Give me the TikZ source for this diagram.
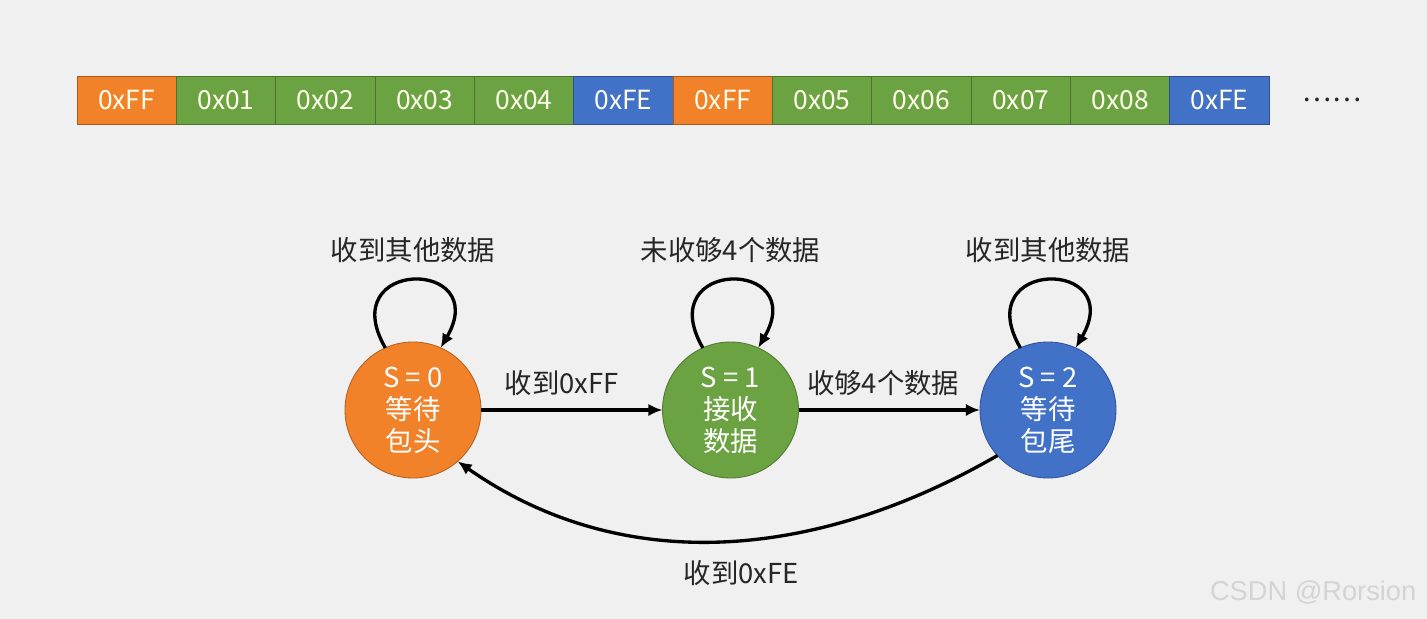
\documentclass[tikz,border=0pt]{standalone}
\usepackage{fontspec}
\setmainfont{Noto Sans CJK SC}
\newfontfamily\wmfont{Liberation Sans}
\usepackage{xcolor}
\usepackage{tikz}
\usetikzlibrary{shapes,arrows.meta,calc}
\definecolor{bgcol}{RGB}{240,240,240}
\definecolor{headcol}{RGB}{242,130,42}
\definecolor{datacol}{RGB}{108,163,66}
\definecolor{tailcol}{RGB}{66,113,200}
\definecolor{wmcol}{RGB}{212,212,212}
\newcommand{\txtfont}{\fontsize{15.6}{18.2}\selectfont}

\begin{document}
\begin{tikzpicture}[
    node distance=1.987cm,
    byte/.style={
      rectangle,
      draw=#1!70!black,
      fill=#1,
      line width=0.5pt,
      text=white!92!yellow,
      minimum width=1.987cm,
      minimum height=0.96cm,
      inner sep=0pt,
      font=\fontsize{15}{18}\selectfont
    },
    state/.style={
      circle,
      draw=#1!75!black,
      fill=#1,
      line width=0.5pt,
      text=white,
      minimum size=2.72cm,
      inner sep=0pt,
      outer sep=0pt,
      align=center,
      font=\txtfont
    },
    line/.style={draw, -{Latex[length=8pt,width=7pt]}, line width=1.9pt},
    lbl/.style={font=\txtfont, text=black!85, inner sep=2pt},
]
    \fill [bgcol] (0,0) rectangle (28.54,-12.38);
    \useasboundingbox (0,0) rectangle (28.54,-12.38);

    % frame bytes
    \node [byte=headcol] (b1) at (2.533,-2.0) {0xFF};
    \node [byte=datacol, right of=b1] (b2) {0x01};
    \node [byte=datacol, right of=b2] (b3) {0x02};
    \node [byte=datacol, right of=b3] (b4) {0x03};
    \node [byte=datacol, right of=b4] (b5) {0x04};
    \node [byte=tailcol, right of=b5] (b6) {0xFE};
    \node [byte=headcol, right of=b6] (b7) {0xFF};
    \node [byte=datacol, right of=b7] (b8) {0x05};
    \node [byte=datacol, right of=b8] (b9) {0x06};
    \node [byte=datacol, right of=b9] (b10) {0x07};
    \node [byte=datacol, right of=b10] (b11) {0x08};
    \node [byte=tailcol, right of=b11] (b12) {0xFE};
    \node [lbl, right of=b12, node distance=2.25cm] (more) {……};

    % states
    \node [state=headcol] (s0) at (8.26,-8.2) {S\ =\ 0\\等待\\包头};
    \node [state=datacol, right of=s0, node distance=6.35cm] (s1) {S\ =\ 1\\接收\\数据};
    \node [state=tailcol, right of=s1, node distance=6.35cm] (s2) {S\ =\ 2\\等待\\包尾};

    \path [line] (s0.114) .. controls +(-1.04,1.8) and +(1.04,1.8) .. node [lbl, above=7pt] {收到其他数据} (s0.66);
    \path [line] (s1.114) .. controls +(-1.04,1.8) and +(1.04,1.8) .. node [lbl, above=7pt] {未收够4个数据} (s1.66);
    \path [line] (s2.114) .. controls +(-1.04,1.8) and +(1.04,1.8) .. node [lbl, above=7pt] {收到其他数据} (s2.66);

    \path [line] (s0) -- node [lbl, above=5pt, xshift=-0.2cm] {收到0xFF} (s1);
    \path [line] (s1) -- node [lbl, above=5pt, xshift=-0.12cm] {收够4个数据} (s2);
    \path [line] (s2.222) .. controls +(210:4.1) and +(-35:4.1) .. node [lbl, below=8pt, xshift=0.35cm] {收到0xFE} (s0.311);

    \node [text=wmcol, font=\wmfont\fontsize{15.5}{18}\selectfont, anchor=east] (wm) at (28.45,-11.86) {CSDN @Rorsion};
\end{tikzpicture}
\end{document}
